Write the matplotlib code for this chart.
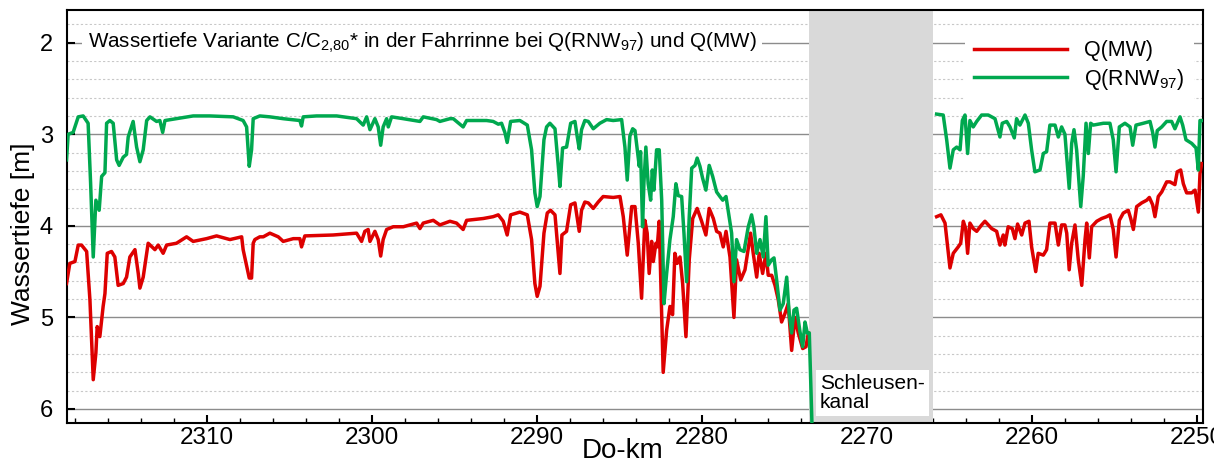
import numpy as np
import matplotlib
matplotlib.use("Agg")
import matplotlib.pyplot as plt
from matplotlib.ticker import MultipleLocator

plt.rcParams['font.family'] = ['Liberation Sans', 'DejaVu Sans']
plt.rcParams['mathtext.fontset'] = 'custom'
plt.rcParams['mathtext.rm'] = 'Liberation Sans'
plt.rcParams['mathtext.it'] = 'Liberation Sans:italic'
plt.rcParams['mathtext.bf'] = 'Liberation Sans:bold'

# Q(RNW97) upstream of the lock canal
km_rnw_a = [2318.53, 2318.43, 2318.13, 2317.82, 2317.52, 2317.22, 2317.07, 2316.91, 2316.75, 2316.55,
            2316.40, 2316.20, 2316.10, 2315.90, 2315.70, 2315.49, 2315.34, 2315.09, 2314.89, 2314.79,
            2314.49, 2314.28, 2314.08, 2313.88, 2313.67, 2313.47, 2313.07, 2312.87, 2312.70, 2312.56,
            2311.86, 2310.85, 2309.84, 2308.42, 2307.82, 2307.61, 2307.45, 2307.31, 2307.21, 2306.81,
            2306.20, 2305.39, 2304.38, 2304.28, 2304.18, 2303.37, 2302.15, 2300.94, 2300.54, 2300.33,
            2300.13, 2299.83, 2299.63, 2299.48, 2299.33, 2299.12, 2299.02, 2298.82, 2298.11, 2297.10,
            2296.90, 2296.09, 2295.89, 2295.28, 2295.08, 2294.48, 2294.27, 2293.06, 2292.66, 2292.35,
            2292.15, 2291.95, 2291.81, 2291.60, 2291.04, 2290.59, 2290.33, 2290.13, 2289.99, 2289.82,
            2289.58, 2289.42, 2289.22, 2288.91, 2288.71, 2288.61, 2288.45, 2288.21, 2287.96, 2287.70,
            2287.56, 2287.44, 2287.30, 2287.10, 2286.89, 2286.59, 2286.19, 2285.78, 2285.38, 2284.87,
            2284.67, 2284.53, 2284.37, 2284.20, 2284.06, 2283.92, 2283.80, 2283.72, 2283.60, 2283.52,
            2283.40, 2283.26, 2283.11, 2283.01, 2282.91, 2282.75, 2282.59, 2282.44, 2282.30, 2282.14,
            2281.94, 2281.74, 2281.58, 2281.44, 2281.23, 2281.09, 2280.93, 2280.77, 2280.62, 2280.42,
            2280.29, 2280.12, 2279.96, 2279.76, 2279.56, 2279.35, 2279.11, 2278.91, 2278.74, 2278.54,
            2278.41, 2278.20, 2278.06, 2277.90, 2277.70, 2277.45, 2277.19, 2276.99, 2276.85, 2276.68,
            2276.48, 2276.28, 2276.12, 2275.98, 2275.77, 2275.63, 2275.47, 2275.27, 2275.07, 2274.86,
            2274.71, 2274.56, 2274.42, 2274.26, 2274.06, 2273.89, 2273.75, 2273.61, 2273.49, 2273.29]
t_rnw_a = [3.28, 3.00, 2.98, 2.81, 2.80, 2.88, 3.53, 4.34, 3.72, 3.83,
           3.46, 3.42, 2.88, 2.85, 2.88, 3.28, 3.34, 3.25, 3.22, 3.03,
           2.86, 3.14, 3.30, 3.17, 2.85, 2.81, 2.86, 2.85, 2.98, 2.85,
           2.83, 2.80, 2.80, 2.81, 2.85, 2.92, 3.35, 3.17, 2.83, 2.80,
           2.81, 2.83, 2.85, 2.91, 2.81, 2.80, 2.80, 2.83, 2.90, 2.81,
           2.95, 2.83, 2.92, 3.12, 2.92, 2.83, 2.92, 2.81, 2.83, 2.86,
           2.81, 2.84, 2.86, 2.83, 2.83, 2.92, 2.85, 2.85, 2.86, 2.89,
           2.88, 2.98, 3.09, 2.86, 2.85, 2.90, 3.17, 3.64, 3.79, 3.68,
           3.06, 2.92, 2.88, 2.94, 3.35, 3.57, 3.15, 3.14, 2.88, 2.86,
           3.03, 3.16, 2.95, 2.85, 2.86, 2.94, 2.88, 2.84, 2.85, 2.84,
           3.14, 3.50, 3.02, 2.94, 2.96, 3.17, 3.35, 3.19, 4.01, 3.54,
           3.14, 3.54, 3.72, 3.39, 3.61, 3.17, 3.17, 3.72, 4.85, 4.52,
           4.15, 3.90, 3.54, 3.67, 3.68, 4.08, 4.61, 3.90, 3.37, 3.34,
           3.26, 3.35, 3.48, 3.61, 3.34, 3.46, 3.63, 3.68, 3.72, 3.68,
           3.83, 4.08, 4.61, 4.15, 4.26, 4.28, 4.01, 3.88, 4.01, 4.30,
           4.15, 4.34, 3.90, 4.43, 4.37, 4.35, 4.59, 4.92, 4.85, 4.56,
           4.96, 5.17, 4.92, 4.90, 5.15, 5.32, 5.05, 5.17, 5.17, 6.40]

# Q(MW) upstream of the lock canal
km_mw_a = [2318.53, 2318.33, 2318.02, 2317.82, 2317.62, 2317.31, 2317.11, 2316.91, 2316.75, 2316.67,
           2316.51, 2316.31, 2316.20, 2316.06, 2315.80, 2315.60, 2315.40, 2315.09, 2314.89, 2314.69,
           2314.38, 2314.18, 2314.08, 2313.88, 2313.58, 2313.17, 2312.97, 2312.67, 2312.46, 2311.86,
           2311.25, 2310.85, 2310.04, 2309.43, 2308.62, 2307.91, 2307.82, 2307.45, 2307.31, 2307.21,
           2307.11, 2306.81, 2306.60, 2306.20, 2305.69, 2305.39, 2304.78, 2304.38, 2304.28, 2304.08,
           2302.36, 2300.94, 2300.64, 2300.44, 2300.24, 2300.13, 2299.83, 2299.63, 2299.48, 2299.33,
           2299.12, 2298.72, 2298.11, 2297.30, 2297.10, 2296.90, 2296.29, 2295.89, 2295.28, 2294.88,
           2294.48, 2294.27, 2293.26, 2292.66, 2292.35, 2292.05, 2291.81, 2291.60, 2291.04, 2290.59,
           2290.33, 2290.13, 2289.99, 2289.82, 2289.58, 2289.38, 2289.18, 2288.91, 2288.71, 2288.61,
           2288.49, 2288.21, 2287.96, 2287.70, 2287.56, 2287.44, 2287.30, 2287.10, 2286.89, 2286.59,
           2286.29, 2285.99, 2285.38, 2284.97, 2284.77, 2284.53, 2284.26, 2284.06, 2283.86, 2283.66,
           2283.46, 2283.32, 2283.20, 2283.05, 2282.95, 2282.79, 2282.71, 2282.59, 2282.35, 2282.14,
           2281.94, 2281.78, 2281.64, 2281.50, 2281.33, 2281.17, 2280.97, 2280.77, 2280.56, 2280.29,
           2280.02, 2279.76, 2279.56, 2279.31, 2279.11, 2278.91, 2278.71, 2278.54, 2278.30, 2278.06,
           2277.90, 2277.65, 2277.39, 2277.05, 2276.89, 2276.68, 2276.53, 2276.32, 2276.12, 2275.98,
           2275.77, 2275.57, 2275.37, 2275.17, 2274.97, 2274.77, 2274.56, 2274.36, 2274.16, 2273.89,
           2273.69, 2273.55]
t_mw_a = [4.63, 4.41, 4.39, 4.21, 4.21, 4.28, 4.81, 5.68, 5.39, 5.10,
          5.21, 4.88, 4.74, 4.30, 4.28, 4.34, 4.65, 4.63, 4.56, 4.34,
          4.26, 4.52, 4.68, 4.56, 4.19, 4.26, 4.21, 4.30, 4.21, 4.19,
          4.12, 4.17, 4.14, 4.11, 4.15, 4.12, 4.26, 4.57, 4.57, 4.19,
          4.15, 4.12, 4.12, 4.08, 4.12, 4.17, 4.14, 4.14, 4.23, 4.11,
          4.10, 4.08, 4.17, 4.06, 4.04, 4.17, 4.06, 4.15, 4.33, 4.15,
          4.04, 4.01, 4.01, 3.97, 4.03, 3.97, 3.94, 3.99, 3.95, 3.97,
          4.04, 3.94, 3.92, 3.90, 3.88, 3.95, 4.10, 3.88, 3.85, 3.88,
          4.15, 4.63, 4.77, 4.66, 4.08, 3.86, 3.83, 3.88, 4.30, 4.52,
          4.10, 4.06, 3.77, 3.75, 3.92, 4.06, 3.83, 3.74, 3.75, 3.81,
          3.74, 3.68, 3.69, 3.68, 3.90, 4.32, 3.79, 3.79, 4.19, 4.79,
          3.94, 4.08, 4.52, 4.17, 4.39, 4.19, 4.23, 3.95, 5.60, 5.14,
          4.88, 4.97, 4.30, 4.41, 4.34, 4.63, 5.21, 4.37, 3.92, 3.81,
          3.95, 4.10, 3.81, 3.92, 4.06, 4.08, 4.23, 4.06, 4.34, 5.00,
          4.37, 4.59, 4.48, 4.08, 4.30, 4.56, 4.30, 4.52, 4.30, 4.54,
          4.54, 4.65, 4.81, 5.05, 4.96, 4.85, 5.36, 5.00, 5.17, 5.34,
          5.32, 5.17]

# Q(RNW97) downstream of the lock canal
km_rnw_b = [2265.77, 2265.37, 2265.16, 2264.96, 2264.76, 2264.55, 2264.35, 2264.21, 2264.05, 2263.89,
            2263.75, 2263.55, 2263.34, 2263.04, 2262.64, 2262.23, 2261.93, 2261.79, 2261.52, 2261.32,
            2261.06, 2260.92, 2260.72, 2260.41, 2260.21, 2260.01, 2259.81, 2259.50, 2259.30, 2259.10,
            2258.90, 2258.59, 2258.39, 2258.19, 2257.99, 2257.73, 2257.58, 2257.44, 2257.28, 2257.03,
            2256.88, 2256.71, 2256.57, 2256.43, 2256.27, 2255.66, 2255.26, 2255.06, 2254.89, 2254.69,
            2254.35, 2254.04, 2253.88, 2253.68, 2253.24, 2252.83, 2252.67, 2252.53, 2252.39, 2252.12,
            2251.82, 2251.52, 2251.32, 2251.01, 2250.85, 2250.65, 2250.30, 2250.04, 2249.90, 2249.80,
            2249.70]
t_rnw_b = [2.78, 2.79, 3.06, 3.37, 3.17, 3.14, 3.17, 2.85, 2.79, 3.21,
           2.85, 2.92, 2.86, 2.79, 2.79, 2.83, 3.03, 2.88, 2.86, 2.92,
           3.04, 2.83, 2.90, 2.79, 2.88, 3.17, 3.41, 3.39, 3.21, 3.19,
           2.90, 2.90, 3.03, 2.92, 3.00, 3.59, 3.10, 2.95, 3.17, 3.79,
           3.46, 2.88, 3.21, 2.88, 2.90, 2.88, 2.88, 3.06, 3.41, 2.92,
           2.88, 2.92, 3.12, 2.90, 2.88, 2.86, 2.98, 3.14, 2.96, 2.92,
           2.86, 2.86, 2.94, 2.81, 2.90, 3.06, 3.10, 3.15, 3.39, 2.85,
           2.85]

# Q(MW) downstream of the lock canal
km_mw_b = [2265.77, 2265.51, 2265.26, 2264.96, 2264.76, 2264.46, 2264.31, 2264.15, 2264.01, 2263.89,
           2263.75, 2263.55, 2263.34, 2263.04, 2262.84, 2262.43, 2262.13, 2261.93, 2261.73, 2261.63,
           2261.43, 2261.18, 2261.02, 2260.86, 2260.61, 2260.41, 2260.17, 2260.01, 2259.76, 2259.61,
           2259.30, 2259.10, 2258.90, 2258.59, 2258.39, 2258.19, 2257.99, 2257.88, 2257.73, 2257.58,
           2257.38, 2257.18, 2256.97, 2256.77, 2256.67, 2256.51, 2256.37, 2256.06, 2255.76, 2255.46,
           2255.26, 2255.06, 2254.89, 2254.69, 2254.45, 2254.15, 2254.00, 2253.84, 2253.64, 2253.34,
           2253.03, 2252.87, 2252.67, 2252.53, 2252.33, 2252.12, 2251.82, 2251.62, 2251.32, 2251.18,
           2250.97, 2250.81, 2250.61, 2250.30, 2250.10, 2249.90, 2249.80, 2249.70]
t_mw_b = [3.90, 3.88, 3.97, 4.46, 4.30, 4.23, 4.19, 3.95, 4.03, 4.30,
          3.97, 4.03, 4.06, 3.99, 3.95, 4.03, 4.06, 4.21, 4.10, 4.21,
          4.01, 4.03, 4.14, 3.98, 4.10, 3.97, 3.95, 4.23, 4.50, 4.30,
          4.32, 4.26, 3.97, 3.97, 4.21, 3.99, 3.99, 4.08, 4.48, 4.19,
          3.99, 4.37, 4.65, 4.15, 3.97, 4.35, 4.01, 3.95, 3.92, 3.90,
          3.88, 4.04, 4.34, 3.94, 3.86, 3.83, 3.92, 4.04, 3.79, 3.75,
          3.72, 3.69, 3.77, 3.90, 3.68, 3.63, 3.52, 3.52, 3.55, 3.41,
          3.39, 3.54, 3.64, 3.64, 3.61, 3.85, 3.43, 3.32]

kanal = (2273.5, 2266.0)   # Schleusenkanal
red = '#dd0000'
green = '#00a84f'

fig = plt.figure(figsize=(12.14, 4.62), dpi=100)
ax = fig.add_axes([0.0552, 0.0844, 0.9357, 0.894])

ax.axvspan(kanal[0], kanal[1], color='#d9d9d9', lw=0, zorder=1.5)
ax.plot(km_mw_a, t_mw_a, color=red, lw=2.5, label='Q(MW)', zorder=3)
ax.plot(km_mw_b, t_mw_b, color=red, lw=2.5, zorder=3)
ax.plot(km_rnw_a, t_rnw_a, color=green, lw=2.5, label='Q(RNW$_{97}$)', zorder=3)
ax.plot(km_rnw_b, t_rnw_b, color=green, lw=2.5, zorder=3)

ax.set_xlim(2318.5, 2249.62)
ax.set_ylim(6.153, 1.643)
ax.xaxis.set_major_locator(MultipleLocator(10))
ax.xaxis.set_minor_locator(MultipleLocator(2))
ax.yaxis.set_major_locator(MultipleLocator(1))
ax.yaxis.set_minor_locator(MultipleLocator(0.2))

ax.grid(which='major', axis='y', color='#8c8c8c', lw=1.0, zorder=1)
ax.grid(which='minor', axis='y', color='#c8c8c8', lw=0.8, ls=(0, (2, 2)), zorder=1)
ax.set_axisbelow(True)

ax.tick_params(axis='x', which='major', direction='in', length=6, width=1.5, labelsize=17.5, pad=3)
ax.tick_params(axis='x', which='minor', direction='in', length=3.5, width=1.0)
ax.tick_params(axis='y', which='major', direction='in', length=6, width=1.5, labelsize=17, pad=10)
ax.tick_params(axis='y', which='minor', length=0)
for s in ax.spines.values():
    s.set_linewidth(1.5)

ax.set_ylabel('Wassertiefe [m]', fontsize=19)
ax.yaxis.set_label_coords(-0.028, 0.458)
ax.set_xlabel('Do-km', fontsize=20)
ax.xaxis.set_label_coords(0.489, -0.036)

ax.text(0.0185, 0.92, 'Wassertiefe Variante C/C$_{2{,}80}$* in der Fahrrinne bei Q(RNW$_{97}$) und Q(MW)',
        transform=ax.transAxes, fontsize=14.9, va='center', ha='left', zorder=4,
        bbox=dict(facecolor='white', edgecolor='none', pad=4))

ax.text(2272.85, 6.03, 'Schleusen-\nkanal', fontsize=15, ha='left', va='bottom', zorder=4,
        linespacing=1.0, bbox=dict(facecolor='white', edgecolor='none', pad=3))

leg = ax.legend(loc='upper right', bbox_to_anchor=(1.002, 0.976), fontsize=15.5, frameon=True,
                fancybox=False, edgecolor='none', framealpha=1, handlelength=4.3,
                handletextpad=0.8, labelspacing=0.25, borderpad=0.45)
leg.set_zorder(4)

fig.savefig('out.png', dpi=100)
